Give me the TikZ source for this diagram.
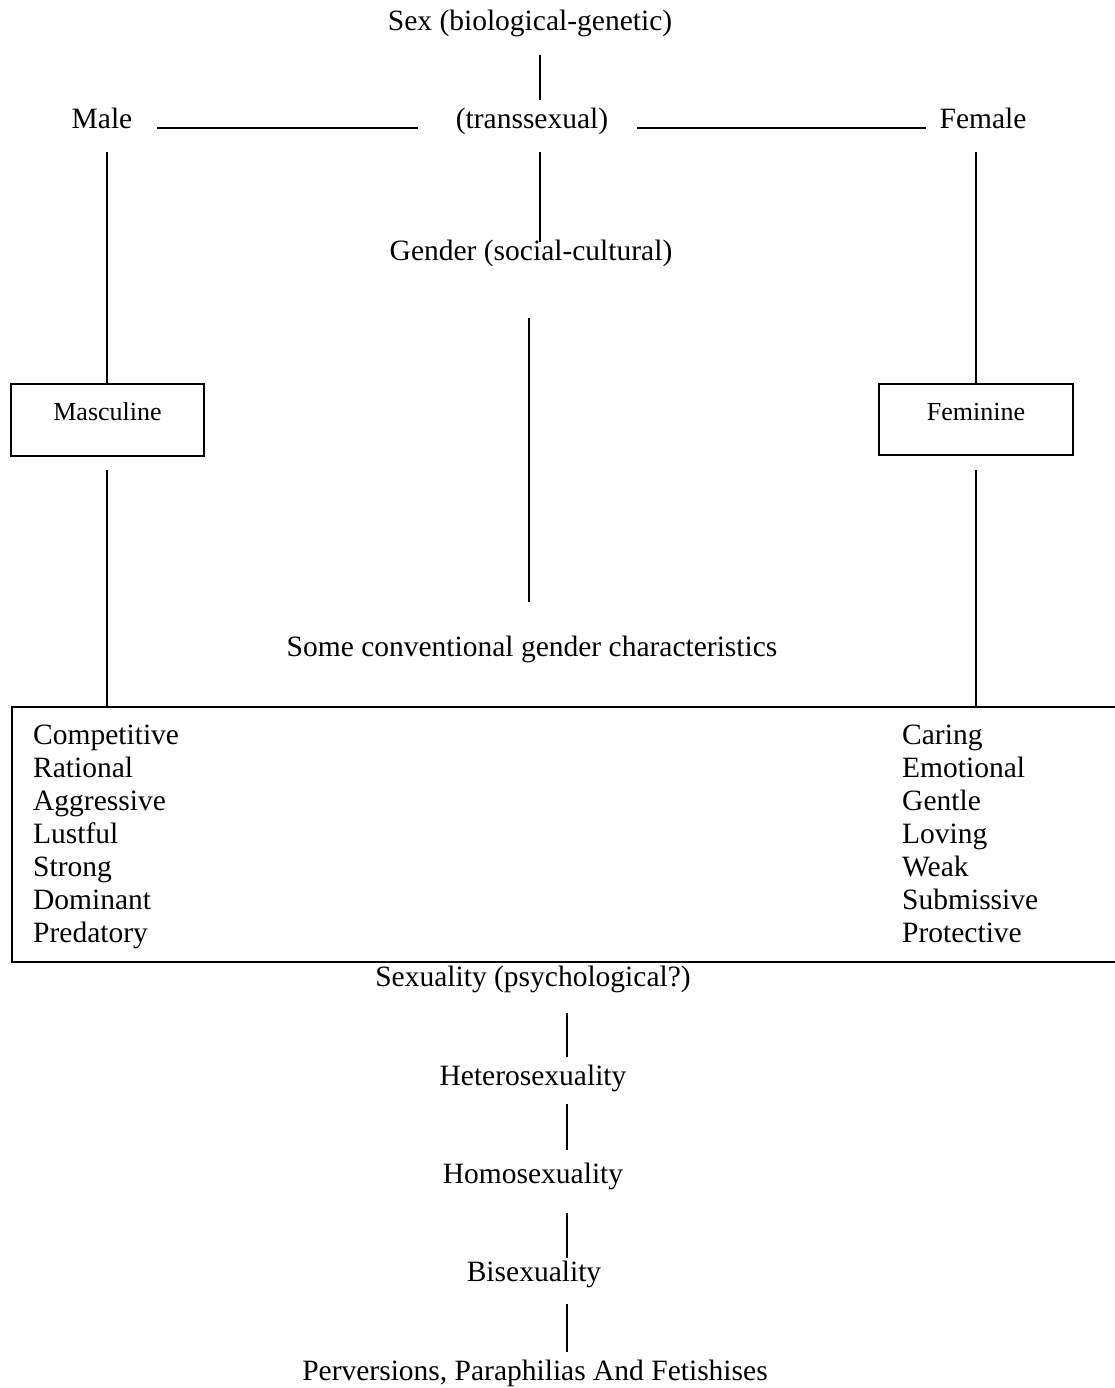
\documentclass[tikz,border=0pt]{standalone}
\usepackage{fontspec}
\setmainfont{Liberation Serif}
\begin{document}
\begin{tikzpicture}[x=1pt,y=-1pt,
  txt/.style={font=\fontsize{29.5}{33}\selectfont, inner sep=0pt, anchor=base},
  item/.style={font=\fontsize{29.5}{33}\selectfont, inner sep=0pt, anchor=base west},
  boxlbl/.style={font=\fontsize{26}{30}\selectfont, inner sep=0pt, anchor=base},
  conn/.style={line width=1.5pt},
  frame/.style={draw, line width=1.5pt, inner sep=0pt}]
\useasboundingbox (0,0) rectangle (1114,1388);

% texts
\node[txt] (sex) at (530,31) {Sex (biological-genetic)};
\node[txt] (male) at (102,129) {Male};
\node[txt] (trans) at (532,129) {(transsexual)};
\node[txt] (female) at (983,129) {Female};
\node[txt] (gender) at (531,261) {Gender (social-cultural)};
\node[txt] (some) at (532,656) {Some conventional gender characteristics};

% boxes
\node[frame, minimum width=193pt, minimum height=72pt] (mascbox) at (107.5,420) {};
\node[boxlbl] (masc) at (107.5,420) {Masculine};
\node[frame, minimum width=194pt, minimum height=71pt] (feminbox) at (976,419.5) {};
\node[boxlbl] (femin) at (976,420) {Feminine};
\node[frame, minimum width=1115pt, minimum height=255pt, anchor=north west] (traits) at (11,706) {};

% lists
\node[item] (m1) at (33,744) {Competitive};
\node[item] (m2) at (33,777) {Rational};
\node[item] (m3) at (33,810) {Aggressive};
\node[item] (m4) at (33,843) {Lustful};
\node[item] (m5) at (33,876) {Strong};
\node[item] (m6) at (33,909) {Dominant};
\node[item] (m7) at (33,942) {Predatory};
\node[item] (f1) at (902,744) {Caring};
\node[item] (f2) at (902,777) {Emotional};
\node[item] (f3) at (902,810) {Gentle};
\node[item] (f4) at (902,843) {Loving};
\node[item] (f5) at (902,876) {Weak};
\node[item] (f6) at (902,909) {Submissive};
\node[item] (f7) at (902,942) {Protective};

% sexuality chain
\node[txt] (sexuality) at (533,986) {Sexuality (psychological?)};
\node[txt] (hetero) at (533,1085) {Heterosexuality};
\node[txt] (homo) at (533,1183) {Homosexuality};
\node[txt] (bi) at (534,1281) {Bisexuality};
\node[txt] (perv) at (535,1380) {Perversions, Paraphilias And Fetishises};

% connector end points
\coordinate (sexS) at (540,55);
\coordinate (transN) at (540,100);
\coordinate (maleE) at (157,128);
\coordinate (transW) at (418,128);
\coordinate (transE) at (637,128);
\coordinate (femaleW) at (926,128);
\coordinate (transS) at (540,152);
\coordinate (genderN) at (540,242);
\coordinate (genderS) at (529,318);
\coordinate (someN) at (529,602);
\coordinate (maleS) at (107,152);
\coordinate (femaleS) at (976,152);
\coordinate (mascS) at (107,470);
\coordinate (feminS) at (976,470);
\coordinate (sexualityS) at (567,1013);
\coordinate (heteroN) at (567,1057);
\coordinate (heteroS) at (567,1104);
\coordinate (homoN) at (567,1150);
\coordinate (homoS) at (567,1213);
\coordinate (biN) at (567,1258);
\coordinate (biS) at (567,1304);
\coordinate (pervN) at (567,1352);

% connectors
\draw[conn] (sexS) -- (transN);
\draw[conn] (maleE) -- (transW);
\draw[conn] (transE) -- (femaleW);
\draw[conn] (transS) -- (genderN);
\draw[conn] (genderS) -- (someN);
\draw[conn] (maleS) -- (maleS |- mascbox.north);
\draw[conn] (femaleS) -- (femaleS |- feminbox.north);
\draw[conn] (mascS) -- (mascS |- traits.north);
\draw[conn] (feminS) -- (feminS |- traits.north);
\draw[conn] (sexualityS) -- (heteroN);
\draw[conn] (heteroS) -- (homoN);
\draw[conn] (homoS) -- (biN);
\draw[conn] (biS) -- (pervN);
\end{tikzpicture}
\end{document}
